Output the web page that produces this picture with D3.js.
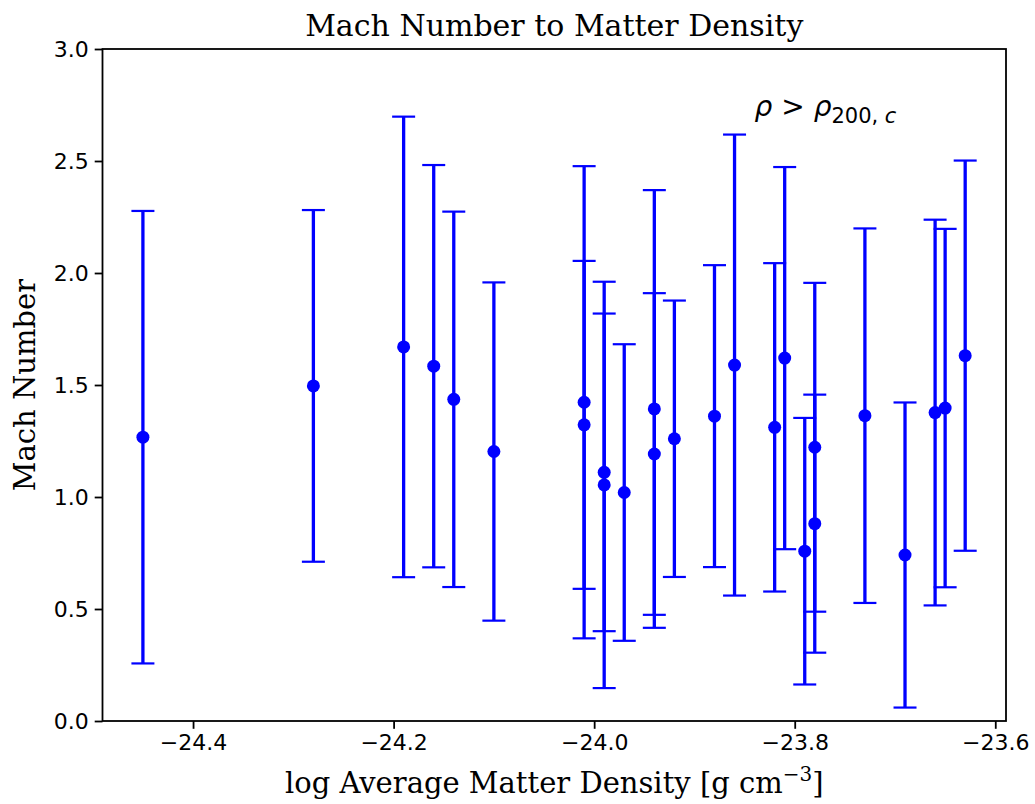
<!DOCTYPE html>
<html>
<head>
<meta charset="utf-8">
<script src="https://cdn.jsdelivr.net/npm/d3@7"></script>
<style>
  body { margin: 0; background: #fff; }
  svg { display: block; }
</style>
</head>
<body>
<script>
// log average matter density of each cluster
const logDensity = [-24.45, -24.28, -24.19, -24.16, -24.14, -24.10, -24.01, -24.01, -23.99, -23.99,
  -23.97, -23.94, -23.94, -23.92, -23.88, -23.86, -23.82, -23.81, -23.79, -23.78,
  -23.78, -23.73, -23.69, -23.66, -23.65, -23.63]
// mean mach number
const machNumber = [1.267, 1.496, 1.670, 1.584, 1.436, 1.203, 1.423, 1.322, 1.110, 1.054,
  1.020, 1.393, 1.192, 1.260, 1.361, 1.589, 1.311, 1.620, 0.758, 1.222,
  0.881, 1.363, 0.741, 1.377, 1.397, 1.631]
// spread (symmetric error)
const machErr = [1.010, 0.785, 1.028, 0.898, 0.838, 0.755, 1.054, 0.732, 0.709, 0.907,
  0.662, 0.977, 0.718, 0.617, 0.674, 1.029, 0.733, 0.853, 0.595, 0.734,
  0.576, 0.836, 0.681, 0.861, 0.800, 0.871]

const xTicks = [-24.4, -24.2, -24.0, -23.8, -23.6]
const yTicks = [0.0, 0.5, 1.0, 1.5, 2.0, 2.5, 3.0]

const width = 1035
const height = 804
const margin = { top: 49, bottom: 83, left: 102.5, right: 29 }
const innerWidth = width - margin.left - margin.right
const innerHeight = height - margin.top - margin.bottom

const blue = '#0000ff'

const data = logDensity.map((d, i) => ({ x: d, y: machNumber[i], e: machErr[i] }))

const svg = d3.select('body')
  .append('svg')
  .attr('width', width)
  .attr('height', height)

const g = svg.append('g')
  .attr('transform', `translate(${margin.left},${margin.top})`)

const xScale = d3.scaleLinear()
  .domain([-24.4903, -23.5893])
  .range([0, innerWidth])

const yScale = d3.scaleLinear()
  .domain([0, 3])
  .range([innerHeight, 0])

// minus sign like matplotlib
const fmt = d => d3.format('.1f')(d).replace('-', '\u2212')

const xAxis = d3.axisBottom(xScale)
  .tickValues(xTicks)
  .tickFormat(fmt)
  .tickSize(7.8)
  .tickPadding(6)

const yAxis = d3.axisLeft(yScale)
  .tickValues(yTicks)
  .tickFormat(fmt)
  .tickSize(7.8)
  .tickPadding(6)

g.append('g').call(xAxis)
    .attr('transform', `translate(0,${innerHeight})`)
  .call(a => a.select('.domain').remove())
  .call(a => a.selectAll('line').attr('stroke', '#000').attr('stroke-width', 1.8))
  .call(a => a.selectAll('text')
    .attr('fill', '#000')
    .style('font-family', 'DejaVu Sans')
    .style('font-size', '22px'))

g.append('g').call(yAxis)
  .call(a => a.select('.domain').remove())
  .call(a => a.selectAll('line').attr('stroke', '#000').attr('stroke-width', 1.8))
  .call(a => a.selectAll('text')
    .attr('fill', '#000')
    .style('font-family', 'DejaVu Sans')
    .style('font-size', '22px'))

// error bars
const bars = g.append('g')
bars.selectAll('line.err')
  .data(data)
  .enter()
  .append('line')
    .attr('class', 'err')
    .attr('x1', d => xScale(d.x))
    .attr('x2', d => xScale(d.x))
    .attr('y1', d => yScale(d.y - d.e))
    .attr('y2', d => yScale(d.y + d.e))
    .attr('stroke', blue)
    .attr('stroke-width', 3.3)

// caps top and bottom
const caps = data.flatMap(d => [{ x: d.x, y: d.y - d.e }, { x: d.x, y: d.y + d.e }])
bars.selectAll('line.cap')
  .data(caps)
  .enter()
  .append('line')
    .attr('class', 'cap')
    .attr('x1', d => xScale(d.x) - 11.5)
    .attr('x2', d => xScale(d.x) + 11.5)
    .attr('y1', d => yScale(d.y))
    .attr('y2', d => yScale(d.y))
    .attr('stroke', blue)
    .attr('stroke-width', 2.2)

// markers
g.append('g').selectAll('circle')
  .data(data)
  .enter()
  .append('circle')
    .attr('cx', d => xScale(d.x))
    .attr('cy', d => yScale(d.y))
    .attr('r', 6.5)
    .attr('fill', blue)

// frame
g.append('rect')
  .attr('width', innerWidth)
  .attr('height', innerHeight)
  .attr('fill', 'none')
  .attr('stroke', '#000')
  .attr('stroke-width', 1.8)

// title
g.append('text')
  .text('Mach Number to Matter Density')
    .attr('text-anchor', 'middle')
    .attr('x', innerWidth / 2)
    .attr('y', -13)
    .style('font-family', 'DejaVu Serif')
    .style('font-size', '30px')

// annotation
const ann = g.append('text')
  .attr('x', xScale(-23.84))
  .attr('y', yScale(2.7))
  .style('font-family', 'DejaVu Sans')
  .style('font-size', '28px')
ann.append('tspan').text('\u03c1').style('font-style', 'italic')
ann.append('tspan').text(' > ')
ann.append('tspan').text('\u03c1').style('font-style', 'italic')
ann.append('tspan').text('200, ')
  .attr('dy', 7)
  .style('font-size', '21px')
ann.append('tspan').text('c')
  .style('font-size', '21px')
  .style('font-style', 'italic')

// x label
const xl = g.append('text')
  .attr('text-anchor', 'middle')
  .attr('x', innerWidth / 2)
  .attr('y', innerHeight + 72)
  .style('font-family', 'DejaVu Serif')
  .style('font-size', '29px')
xl.append('tspan').text('log Average Matter Density [g cm')
xl.append('tspan').text('\u22123')
  .attr('dy', -12)
  .style('font-size', '20px')
xl.append('tspan').text(']')
  .attr('dy', 12)

// y label
g.append('text')
  .text('Mach Number')
    .attr('text-anchor', 'middle')
    .attr('transform', `translate(-68,${innerHeight / 2}) rotate(-90)`)
    .style('font-family', 'DejaVu Serif')
    .style('font-size', '29px')
</script>
</body>
</html>
